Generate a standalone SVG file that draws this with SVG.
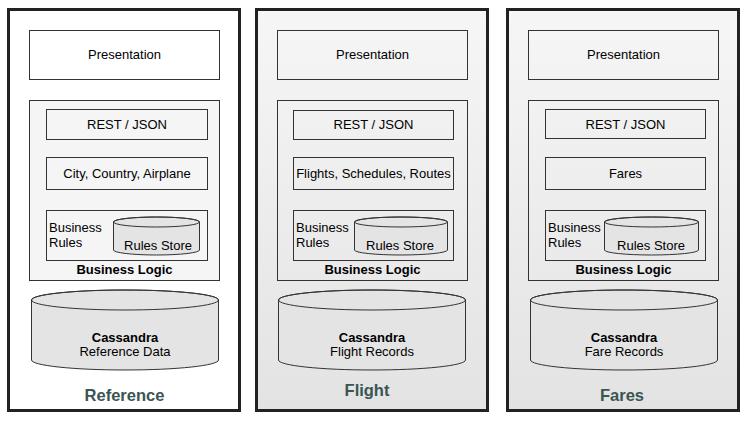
<svg xmlns="http://www.w3.org/2000/svg" width="751" height="423" viewBox="0 0 751 423">
<defs>
<linearGradient id="pg" x1="0" y1="0" x2="0" y2="1">
<stop offset="0" stop-color="#f6f6f6"/>
<stop offset="1" stop-color="#e3e3e3"/>
</linearGradient>
</defs>
<style>
.panel{stroke:#222;stroke-width:3}
.box{fill:none;stroke:#333;stroke-width:1}
.bl{fill:#f5f5f5;stroke:#333;stroke-width:1}
.cyl{fill:#e4e4e4;stroke:#333;stroke-width:1}
.t{font-family:"Liberation Sans",Arial,sans-serif;font-size:13px;fill:#000;text-anchor:middle}
.tl{font-family:"Liberation Sans",Arial,sans-serif;font-size:13px;fill:#000}
.b{font-weight:bold}
.title{font-family:"Liberation Sans",Arial,sans-serif;font-size:16.5px;font-weight:bold;fill:#3a5553;text-anchor:middle}
</style>
<g id="reference">
<rect class="panel" x="8.5" y="9.5" width="231" height="401" fill="#fff"/>
<g id="ref-presentation"><rect class="box" x="29.5" y="30.5" width="190" height="49" style="fill:#fff"/><text class="t" x="124.5" y="59">Presentation</text></g>
<g id="ref-logic">
<rect class="bl" x="29.5" y="100.5" width="190" height="180"/>
<rect class="box" x="46.5" y="109.5" width="161" height="30"/><text class="t" x="127" y="129">REST / JSON</text>
<rect class="box" x="46.5" y="157.5" width="161" height="32"/><text class="t" x="127" y="178">City, Country, Airplane</text>
<rect class="box" x="46.5" y="210.5" width="161" height="50"/>
<text class="tl" x="49" y="232">Business</text><text class="tl" x="49" y="246.5">Rules</text>
<path class="cyl" d="M113.5,222 V250 A43,5 0 0 0 199.5,250 V222 A43,5 0 0 0 113.5,222 Z"/><ellipse cx="156.5" cy="222" rx="43" ry="5" fill="none" stroke="#333"/>
<text class="t" x="158" y="250">Rules Store</text>
<text class="t b" x="124.5" y="274">Business Logic</text>
</g>
<g id="ref-cassandra">
<path class="cyl" d="M31.5,300 V360 A93.5,10 0 0 0 218.5,360 V300 A93.5,10 0 0 0 31.5,300 Z"/><ellipse cx="125" cy="300" rx="93.5" ry="10" fill="none" stroke="#333"/>
<text class="t b" x="125" y="342">Cassandra</text><text class="t" x="125" y="356">Reference Data</text>
</g>
<text class="title" x="124.5" y="401">Reference</text>
</g>
<g id="flight">
<rect class="panel" x="256.5" y="9.5" width="231" height="401" fill="url(#pg)"/>
<g id="flight-presentation"><rect class="box" x="277.5" y="30.5" width="190" height="49"/><text class="t" x="372.5" y="59">Presentation</text></g>
<g id="flight-logic">
<rect class="box" x="277.5" y="100.5" width="190" height="180"/>
<rect class="box" x="293.5" y="110.5" width="160" height="29"/><text class="t" x="373.5" y="129">REST / JSON</text>
<rect class="box" x="293.5" y="157.5" width="160" height="32"/><text class="t" x="373.5" y="178">Flights, Schedules, Routes</text>
<rect class="box" x="293.5" y="210.5" width="160" height="50"/>
<text class="tl" x="296" y="232">Business</text><text class="tl" x="296" y="246.5">Rules</text>
<path class="cyl" d="M354.5,222 V250 A46.5,5 0 0 0 447.5,250 V222 A46.5,5 0 0 0 354.5,222 Z"/><ellipse cx="401" cy="222" rx="46.5" ry="5" fill="none" stroke="#333"/>
<text class="t" x="400" y="250">Rules Store</text>
<text class="t b" x="372.5" y="274">Business Logic</text>
</g>
<g id="flight-cassandra">
<path class="cyl" d="M278.5,300 V360 A93.5,10 0 0 0 465.5,360 V300 A93.5,10 0 0 0 278.5,300 Z"/><ellipse cx="372" cy="300" rx="93.5" ry="10" fill="none" stroke="#333"/>
<text class="t b" x="372" y="342">Cassandra</text><text class="t" x="372" y="356">Flight Records</text>
</g>
<text class="title" x="367" y="396">Flight</text>
</g>
<g id="fares">
<rect class="panel" x="507.5" y="9.5" width="231" height="401" fill="url(#pg)"/>
<g id="fares-presentation"><rect class="box" x="528.5" y="30.5" width="190" height="49"/><text class="t" x="623.5" y="59">Presentation</text></g>
<g id="fares-logic">
<rect class="box" x="528.5" y="100.5" width="190" height="180"/>
<rect class="box" x="545.5" y="109.5" width="160" height="29"/><text class="t" x="625.5" y="129">REST / JSON</text>
<rect class="box" x="545.5" y="157.5" width="160" height="32"/><text class="t" x="625.5" y="178">Fares</text>
<rect class="box" x="545.5" y="210.5" width="160" height="50"/>
<text class="tl" x="548" y="232">Business</text><text class="tl" x="548" y="246.5">Rules</text>
<path class="cyl" d="M604.5,222 V250 A47,5 0 0 0 698.5,250 V222 A47,5 0 0 0 604.5,222 Z"/><ellipse cx="651.5" cy="222" rx="47" ry="5" fill="none" stroke="#333"/>
<text class="t" x="651" y="250">Rules Store</text>
<text class="t b" x="623.5" y="274">Business Logic</text>
</g>
<g id="fares-cassandra">
<path class="cyl" d="M530.5,300 V360 A93.5,10 0 0 0 717.5,360 V300 A93.5,10 0 0 0 530.5,300 Z"/><ellipse cx="624" cy="300" rx="93.5" ry="10" fill="none" stroke="#333"/>
<text class="t b" x="624" y="342">Cassandra</text><text class="t" x="624" y="356">Fare Records</text>
</g>
<text class="title" x="622" y="401">Fares</text>
</g>
<g id="connectors"/>
</svg>
